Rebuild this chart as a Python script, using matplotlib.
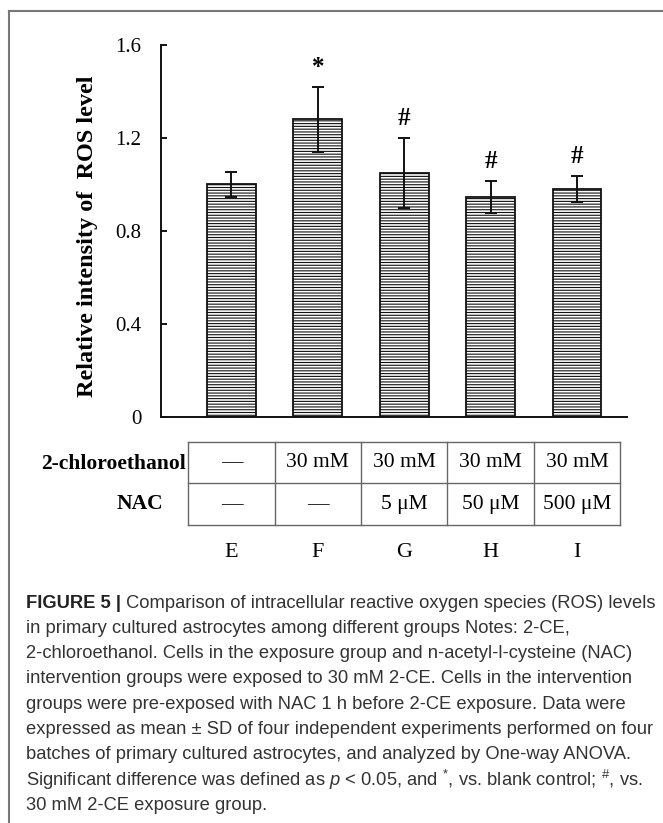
"""
Figure 5: relative ROS level in astrocytes (bar chart + treatment table + caption)
"""
import matplotlib
matplotlib.use('Agg')
import matplotlib.pyplot as plt
import numpy as np

# Du lieu doc tu hinh
groups = ['E', 'F', 'G', 'H', 'I']
ros_mean = [1.00, 1.28, 1.05, 0.945, 0.98]
ros_sd = [0.055, 0.14, 0.15, 0.07, 0.056]
marks = ['', '*', '#', '#', '#']
row_names = ['2-chloroethanol', 'NAC']
chloro_row = ['—', '30 mM', '30 mM', '30 mM', '30 mM']
nac_row = ['—', '—', '5 μM', '50 μM', '500 μM']
y_ticks = [0, 0.4, 0.8, 1.2, 1.6]
y_ticklabels = ['0', '0.4', '0.8', '1.2', '1.6']

caption_head = 'FIGURE 5 |'
caption_lines = [
    ' Comparison of intracellular reactive oxygen species (ROS) levels',
    'in primary cultured astrocytes among different groups Notes: 2-CE,',
    '2-chloroethanol. Cells in the exposure group and n-acetyl-l-cysteine (NAC)',
    'intervention groups were exposed to 30 mM 2-CE. Cells in the intervention',
    'groups were pre-exposed with NAC 1 h before 2-CE exposure. Data were',
    'expressed as mean ± SD of four independent experiments performed on four',
    'batches of primary cultured astrocytes, and analyzed by One-way ANOVA.',
    r'Significant difference was defined as $p$ < 0.05, and $^{*}$, vs. blank control; $^{\#}$, vs.',
    '30 mM 2-CE exposure group.',
]

W, H = 663, 823
plt.rcParams['mathtext.fontset'] = 'custom'
plt.rcParams['mathtext.rm'] = 'Liberation Sans'
plt.rcParams['mathtext.it'] = 'Liberation Sans:italic'
plt.rcParams['hatch.linewidth'] = 0.8
plt.rcParams['hatch.color'] = '#222222'

fig = plt.figure(figsize=(W / 100, H / 100), dpi=100)
serif = 'Liberation Serif'

def fx(px):
    return px / W

def fy(py):
    return 1 - py / H

# khung ngoai
fig.add_artist(plt.Line2D([fx(9), fx(9)], [fy(11), 0], color='#777777', lw=1.5))
fig.add_artist(plt.Line2D([fx(9), 1], [fy(11), fy(11)], color='#777777', lw=1.5))

# bieu do cot
x_left, x_right, y_top, y_zero = 161, 627, 45, 416.7
ax = fig.add_axes([fx(x_left), fy(y_zero), fx(x_right - x_left), (y_zero - y_top) / H])
x = np.arange(len(groups))
ax.bar(x, ros_mean, width=0.567, color='white', edgecolor='#111111', linewidth=1.3,
       hatch='------', zorder=2)
ax.errorbar(x, ros_mean, yerr=ros_sd, fmt='none', ecolor='#111111', elinewidth=1.4,
            capsize=4, capthick=1.4, zorder=3)
for i, m in enumerate(marks):
    if m:
        ax.annotate(m, (x[i], ros_mean[i] + ros_sd[i]), xytext=(0, 14),
                    textcoords='offset points', ha='center', va='center',
                    fontsize=18, fontweight='bold', family=serif)
xl = (x_left - 231.5) / 86.4
xr = 4 + (x_right - 577) / 86.4
ax.set_xlim(xl, xr)
ax.set_ylim(0, 1.6)
ax.set_yticks(y_ticks)
ax.set_yticklabels(y_ticklabels, family=serif, fontsize=15)
ax.set_xticks([])
ax.tick_params(axis='y', direction='in', length=4, width=1.3, pad=14)
for s in ['top', 'right']:
    ax.spines[s].set_visible(False)
for s in ['left', 'bottom']:
    ax.spines[s].set_linewidth(1.4)
    ax.spines[s].set_color('#111111')

fig.text(fx(88), fy(236), 'Relative intensity of  ROS level', rotation=90,
         ha='center', va='center', family=serif, fontsize=17.5, fontweight='bold')

# bang dieu kien
t_top, t_mid, t_bot = 441.7, 484, 525
tax = fig.add_axes([fx(x_left), fy(t_bot), fx(x_right - x_left), (t_bot - t_top) / H])
tax.set_xlim(xl, xr)
tax.set_ylim(0, 2)
tax.axis('off')
edges = np.arange(len(groups) + 1) - 0.5
for e in edges:
    tax.plot([e, e], [0, 2], color='#666666', lw=1, clip_on=False)
for yy in [0, 1, 2]:
    tax.plot([edges[0], edges[-1]], [yy, yy], color='#666666', lw=1, clip_on=False)
for i in range(len(groups)):
    tax.text(x[i], 1.5, chloro_row[i], ha='center', va='center', family=serif, fontsize=15.5)
    tax.text(x[i], 0.5, nac_row[i], ha='center', va='center', family=serif, fontsize=15.5)
fig.text(fx(186), fy(464), row_names[0], ha='right', va='center', family=serif,
         fontsize=15.5, fontweight='bold')
fig.text(fx(140), fy(504), row_names[1], ha='center', va='center', family=serif,
         fontsize=15.5, fontweight='bold')

# chu cai nhom
for i, g in enumerate(groups):
    tax.text(x[i], -0.65, g, ha='center', va='center', family=serif, fontsize=16)

# chu thich
cap_font = 'Liberation Sans'
cap_size = 13.2
y0, dy = 603, 25.3
head = fig.text(fx(26), fy(y0), caption_head, ha='left', va='center', family=cap_font,
                fontsize=cap_size, fontweight='bold', color='#222222')
fig.canvas.draw()
bb = head.get_window_extent()
fig.text(bb.x1 / W, fy(y0), caption_lines[0], ha='left', va='center', family=cap_font,
         fontsize=cap_size, color='#333333')
for k, line in enumerate(caption_lines[1:], start=1):
    fig.text(fx(26), fy(y0 + k * dy), line, ha='left', va='center', family=cap_font,
             fontsize=cap_size, color='#333333')

fig.savefig('out.png', dpi=100)
